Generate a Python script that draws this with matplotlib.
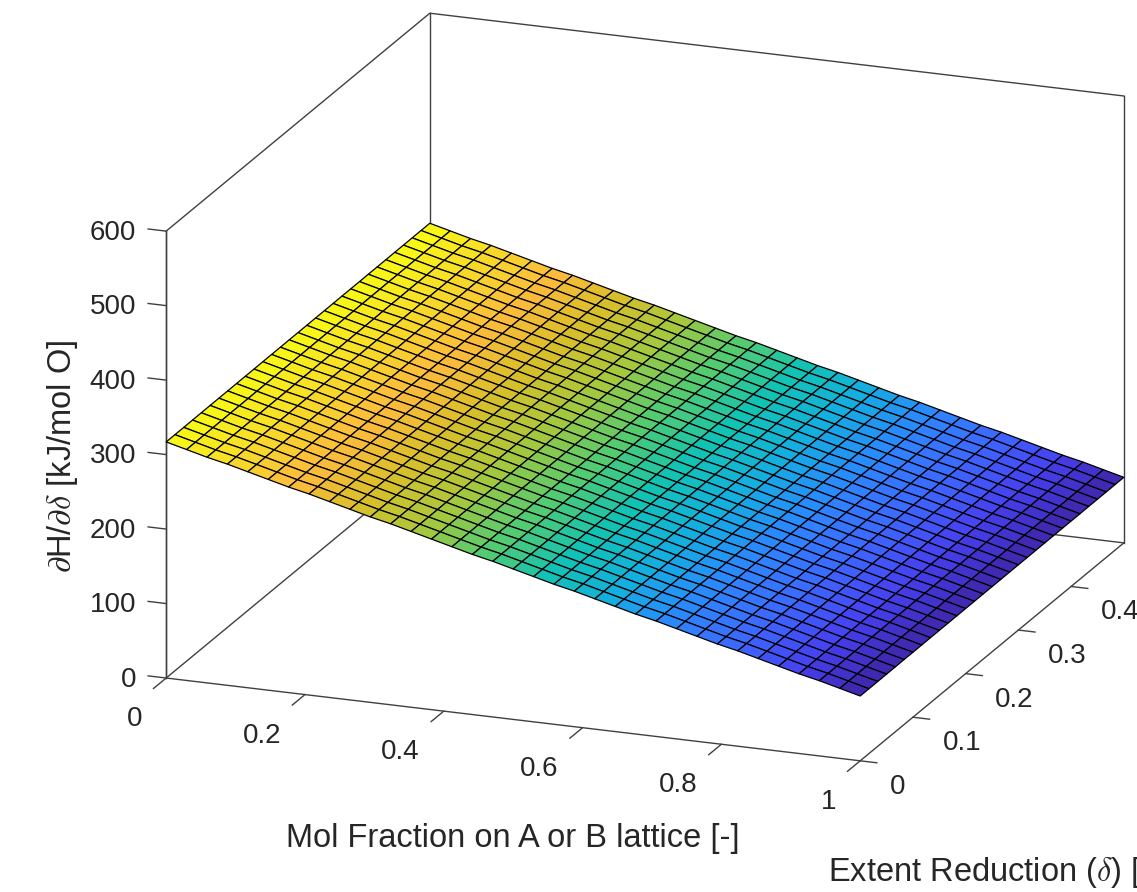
import numpy as np
import matplotlib
matplotlib.use('Agg')
import matplotlib.pyplot as plt
from matplotlib.colors import LinearSegmentedColormap

plt.rcParams['font.family'] = ['Liberation Sans', 'DejaVu Sans']
plt.rcParams['mathtext.fontset'] = 'cm'

# values
x_grid = [i / 34 for i in range(35)]
y_grid = [i / 60 for i in range(31)]
z_by_x = [317, 310, 303, 297, 290, 283, 276, 270, 263, 256, 249, 243, 236, 229, 222,
          215, 209, 202, 195, 188, 182, 175, 168, 161, 155, 148, 141, 134, 128, 121,
          114, 107, 101, 94, 87]
z_by_y = [0, 0, 0, 0.1, 0.1, 0.2, 0.2, 0.2, 0.3, 0.3, 0.3, 0.4, 0.4, 0.4, 0.5, 0.5,
          0.5, 0.6, 0.6, 0.6, 0.7, 0.7, 0.7, 0.8, 0.8, 0.8, 0.9, 0.9, 0.9, 1, 1]

x_ticks = [0, 0.2, 0.4, 0.6, 0.8, 1]
x_labels = ['0', '0.2', '0.4', '0.6', '0.8', '1']
y_ticks = [0, 0.1, 0.2, 0.3, 0.4]
y_labels = ['0', '0.1', '0.2', '0.3', '0.4']
z_ticks = [0, 100, 200, 300, 400, 500, 600]

parula = ['#3e26a8', '#4740f0', '#3c68ff', '#2c88ff', '#14aee0', '#12c3b4',
          '#55cb70', '#a6c83c', '#d8bf2a', '#fdbb3c', '#f6dc28', '#f9fb15']
cmap = LinearSegmentedColormap.from_list('parula', parula)

W, H = 1137, 892
INK = '#262626'
LINE = '#404040'
fig = plt.figure(figsize=(W / 100, H / 100), dpi=100)
side = 1117
ax = fig.add_axes([71.4 / W, -68.6 / H, side / W, side / H], projection='3d',
                  computed_zorder=False)
ax.set_proj_type('ortho')
ax.view_init(elev=18.3, azim=-69.2)
ax.set_box_aspect((1, 1, 0.634))
ax.set_xlim(0, 1, view_margin=0)
ax.set_ylim(0, 0.5, view_margin=0)
ax.set_zlim(0, 600, view_margin=0)
ax.patch.set_alpha(0)

# box edges behind the surface
ax.plot([0, 0, 1], [0, 0.5, 0.5], [600, 600, 600], color=LINE, lw=1, zorder=1)
ax.plot([0, 0], [0, 0], [0, 600], color=LINE, lw=1, zorder=1)
ax.plot([0, 0], [0.5, 0.5], [0, 600], color=LINE, lw=1, zorder=1)
ax.plot([1, 1], [0.5, 0.5], [0, 600], color=LINE, lw=1, zorder=1)
ax.plot([0, 0, 1], [0, 0.5, 0.5], [0, 0, 0], color=LINE, lw=1, zorder=1)

# z ticks point along -x, the native ones point along y here
for z in z_ticks:
    ax.plot([-0.026, 0], [0, 0], [z, z], color=LINE, lw=1, zorder=1, clip_on=False)

X, Y = np.meshgrid(x_grid, y_grid)
Z = np.array(z_by_x)[None, :] + np.array(z_by_y)[:, None]
ax.plot_surface(X, Y, Z, cmap=cmap, vmin=87, vmax=318, rstride=1, cstride=1,
                edgecolor='black', linewidth=0.9, shade=False, zorder=2)

ax.grid(False)
for axis in (ax.xaxis, ax.yaxis, ax.zaxis):
    axis.set_pane_color((1, 1, 1, 0))
    axis.pane.set_edgecolor((1, 1, 1, 0))
    axis.line.set_color(LINE)
    axis.line.set_linewidth(1)
    axis._axinfo['tick']['outward_factor'] = 0
    axis._axinfo['tick']['linewidth'] = {True: 1, False: 0.5}
    axis._axinfo['tick']['color'] = LINE
ax.xaxis._axinfo['tick']['inward_factor'] = 0.6
ax.yaxis._axinfo['tick']['inward_factor'] = 0.3
ax.zaxis._axinfo['tick']['inward_factor'] = 0
ax.zaxis.set_ticks_position('lower')

ax.set_xticks(x_ticks)
ax.set_yticks(y_ticks)
ax.set_zticks(z_ticks)
ax.set_xticklabels([])
ax.set_yticklabels([])
ax.set_zticklabels([])
ax.tick_params(colors=LINE, width=1)

for x, lab in zip(x_ticks, x_labels):
    ax.text(x, -0.0455, -28.5, lab, ha='right', va='center', fontsize=20, color=INK)
for y, lab in zip(y_ticks, y_labels):
    ax.text(1.0425, y, -30.2, lab, ha='left', va='center', fontsize=20, color=INK)
for z in z_ticks:
    ax.text(-0.0432, 0, z - 7, str(z), ha='right', va='center', fontsize=20, color=INK)

fig.text(513 / W, 1 - 839 / H, 'Mol Fraction on A or B lattice [-]', ha='center',
         va='center', fontsize=23.5, color=INK)
fig.text(828 / W, 1 - 873 / H, r'Extent Reduction ($\delta$) [-]', ha='left',
         va='center', fontsize=23.5, color=INK)
fig.text(62 / W, 1 - 456 / H, r'$\partial$H/$\partial\delta$ [kJ/mol O]', ha='center',
         va='center', rotation=90, fontsize=23.5, color=INK)

fig.savefig('out.png', dpi=100)
